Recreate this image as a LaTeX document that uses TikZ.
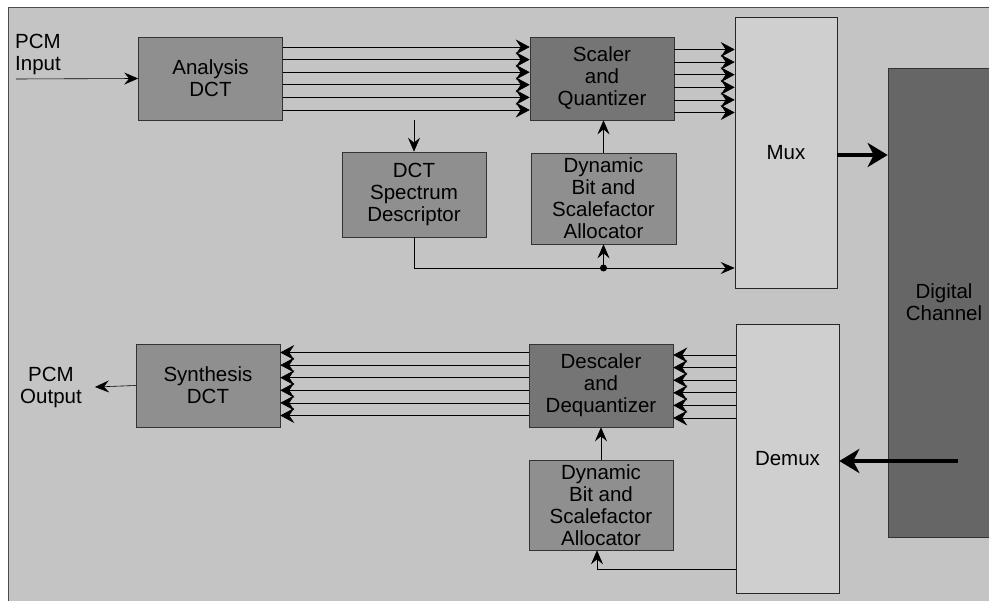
\documentclass[tikz,border=0pt]{standalone}
\usepackage{fontspec}
\setmainfont{Liberation Sans}
\usetikzlibrary{arrows.meta,positioning}

\definecolor{paper}{gray}{0.77}
\definecolor{muxgray}{gray}{0.81}
\definecolor{blockgray}{gray}{0.56}
\definecolor{darkblock}{gray}{0.46}
\definecolor{chgray}{gray}{0.40}

\tikzset{
	block/.style={draw=black!80, line width=0.6pt, fill=blockgray, align=center,
		inner sep=0pt, minimum width=144pt, minimum height=83pt},
	qblock/.style={block, fill=darkblock},
	muxbox/.style={draw=black!85, line width=0.6pt, fill=muxgray, inner sep=0pt, minimum width=102pt},
	plaintext/.style={align=center, inner sep=0pt},
	bus/.style={-{Stealth[length=14pt,width=15pt,inset=5pt]}, line width=0.6pt},
	sig/.style={-{Stealth[length=14pt,width=12pt,inset=5pt]}, line width=0.6pt},
	fat/.style={-{Stealth[length=20pt,width=24pt,inset=6pt]}, line width=4.5pt}
}

\begin{document}
\begin{tikzpicture}[x=1pt, y=-1pt, font=\fontsize{20.5}{22}\selectfont]
	\useasboundingbox (0,0) rectangle (989,601);
	\fill [paper, draw=black!70, line width=0.6pt] (8,7) rectangle (1010,620);

	% Nodes {ana, scl, mux, dig, spec, alloc, syn, dsc, dalloc, demux}
	\node [block]					(ana)		at (210.5,78.5)		{Analysis\\DCT};
	\node [qblock]					(scl)		at (602,78.5)		{Scaler\\and\\Quantizer};
	\node [muxbox, minimum height=271pt]	(mux)		at (786,152.5)		{Mux};
	\node [block, fill=chgray, minimum width=112pt, minimum height=469pt]
									(dig)		at (944,302.5)		{Digital\\Channel};
	\node [block, minimum height=85pt]	(spec)		at (414,194.5)		{DCT\\Spectrum\\Descriptor};
	\node [block, minimum width=145pt, minimum height=91pt]
									(alloc)		at (603.5,198.5)	{Dynamic\\Bit and\\Scalefactor\\Allocator};
	\node [block]					(syn)		at (208,385.5)		{Synthesis\\DCT};
	\node [qblock]					(dsc)		at (601,385.5)		{Descaler\\and\\Dequantizer};
	\node [block, minimum height=90pt]	(dalloc)	at (601,505)		{Dynamic\\Bit and\\Scalefactor\\Allocator};
	\node [muxbox, minimum width=103pt, minimum height=269pt]
									(demux)		at (787.5,458.5)	{Demux};
	\node [plaintext, align=left, anchor=north west]	(pcmin)		at (15,34)	{PCM\\Input};
	\node [plaintext]				(pcmout)	at (51,387)			{PCM\\Output};

	\coordinate (in)	at (16,79);
	\coordinate (tap)	at (alloc.south |- 0,268);
	\coordinate (chout)	at (958,461);

	% Paths
	\path [sig]	(in) edge (ana.west);
	\foreach \dy in {31.5,18.9,6.3,-6.3,-18.9,-31.5} {
		\path [bus]	([yshift=\dy pt]ana.east) edge ([yshift=\dy pt]scl.west);
		\path [bus]	([yshift=\dy pt-2.5pt]scl.east) edge ([yshift=\dy pt-2.5pt]scl.east -| mux.west);
		\path [bus]	([yshift=\dy pt-1pt]dsc.east -| demux.west) edge ([yshift=\dy pt-1pt]dsc.east);
		\path [bus]	([yshift=\dy pt+1.5pt]dsc.west) edge ([yshift=\dy pt+1.5pt]syn.east);
	}
	\path [sig]	(spec.north |- ana.south) edge (spec.north);
	\draw [sig]	(spec.south) |- (mux.west |- tap);
	\fill		(tap) circle (3.5pt);
	\path [sig]	(tap) edge (alloc.south);
	\path [sig]	(alloc.north) edge (alloc.north |- scl.south);
	\path [fat]	(mux.east |- 0,155) edge (dig.west |- 0,155);
	\path [fat]	(chout) edge (chout -| demux.east);
	\path [sig]	(dalloc.north) edge (dsc.south);
	\draw [sig]	([yshift=-110.5pt]demux.west) -| ([xshift=-4pt]dalloc.south);
	\path [sig]	(syn.west) edge ([xshift=13pt]pcmout.east);

\end{tikzpicture}
\end{document}
